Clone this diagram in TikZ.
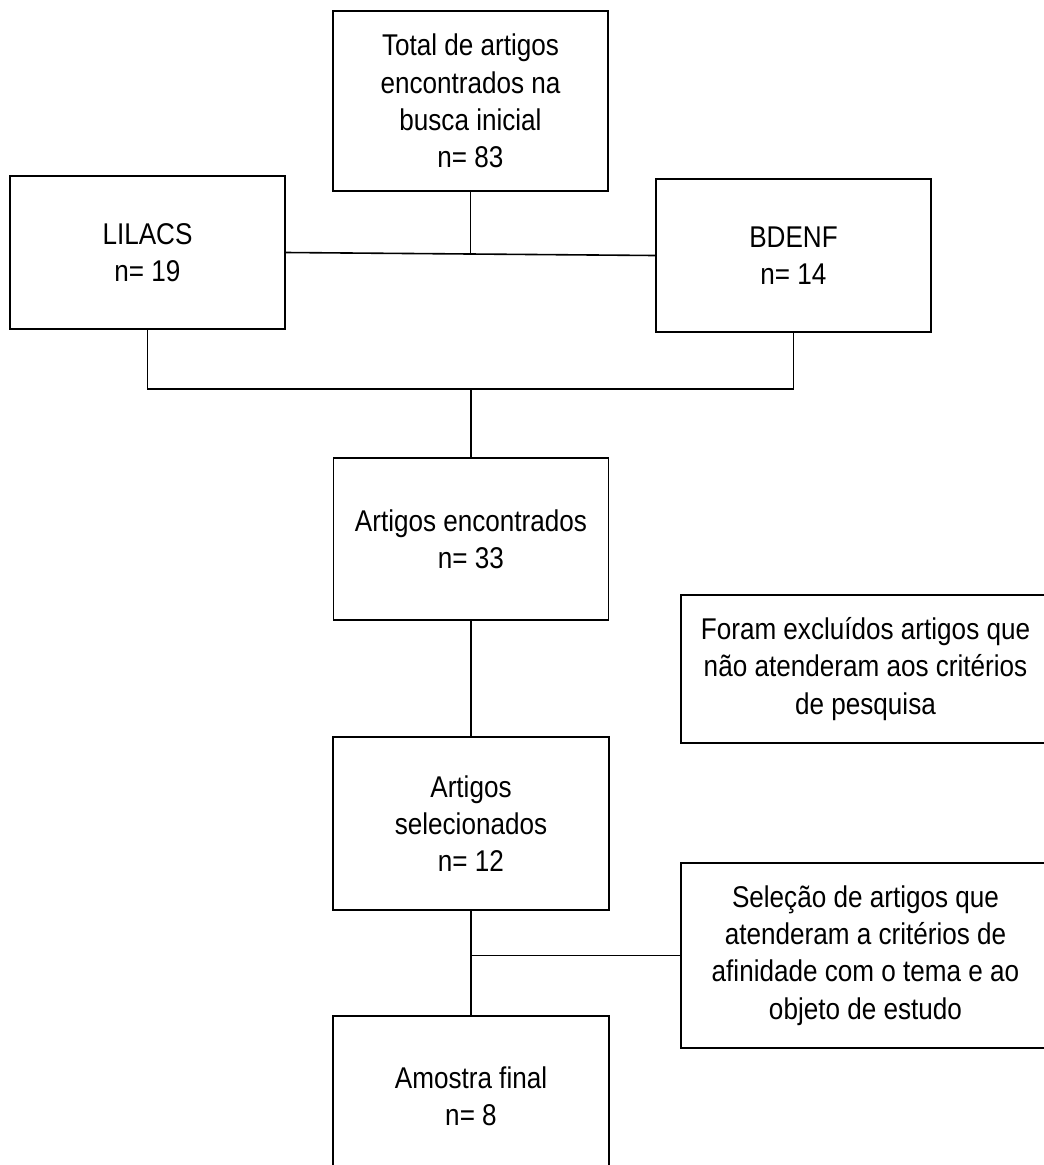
\documentclass[tikz,border=0pt]{standalone}
\usepackage{fontspec}
\setmainfont{Liberation Sans}[FakeStretch=0.87]
\usetikzlibrary{calc}

\tikzset{
  caixa/.style={draw, line width=1.2pt, inner sep=0pt, align=center,
    font=\fontsize{22.5}{28}\selectfont},
  liga/.style={line width=1.2pt}
}

\begin{document}
\begin{tikzpicture}[x=0.75pt,y=0.75pt,yscale=-1]
\useasboundingbox (0,0) rectangle (1044,1165);

% Caixas
\node [caixa, minimum width=206.25pt, minimum height=135pt] (total) at (470.5,101) {Total de artigos\\encontrados na\\busca inicial\\n= 83};
\node [caixa, minimum width=206.25pt, minimum height=114.75pt] (lilacs) at (147.5,252.5) {LILACS\\n= 19};
\node [caixa, minimum width=206.25pt, minimum height=114.75pt] (bdenf) at (793.5,255.5) {BDENF\\n= 14};
\node [caixa, minimum width=206.25pt, minimum height=121.5pt] (encontrados) at (471,539) {Artigos encontrados\\n= 33};
\node [caixa, minimum width=276.75pt, minimum height=111pt] (excluidos) at (865.5,669) {Foram excluídos artigos que\\não atenderam aos critérios\\de pesquisa};
\node [caixa, minimum width=207pt, minimum height=129.75pt] (selecionados) at (471,823.5) {Artigos\\selecionados\\n= 12};
\node [caixa, minimum width=276.75pt, minimum height=138.75pt] (selecao) at (865.5,955.5) {Seleção de artigos que\\atenderam a critérios de\\afinidade com o tema e ao\\objeto de estudo};
\node [caixa, minimum width=207pt, minimum height=120pt] (amostra) at (471,1096) {Amostra final\\n= 8};

% Ligacoes
\coordinate (juncao) at (471,389);
\draw [liga] (lilacs.east) -- (bdenf.west);
\draw [liga] (total.south) -- (total.south |- lilacs.east);
\draw [liga] (lilacs.south) -- (lilacs.south |- juncao) -- (bdenf.south |- juncao) -- (bdenf.south);
\draw [liga] (juncao) -- (encontrados.north);
\draw [liga] (encontrados.south) -- (selecionados.north);
\draw [liga] (selecionados.south) -- (amostra.north);
\draw [liga] (selecao.west) -- (selecionados.south |- selecao.west);

\end{tikzpicture}
\end{document}
